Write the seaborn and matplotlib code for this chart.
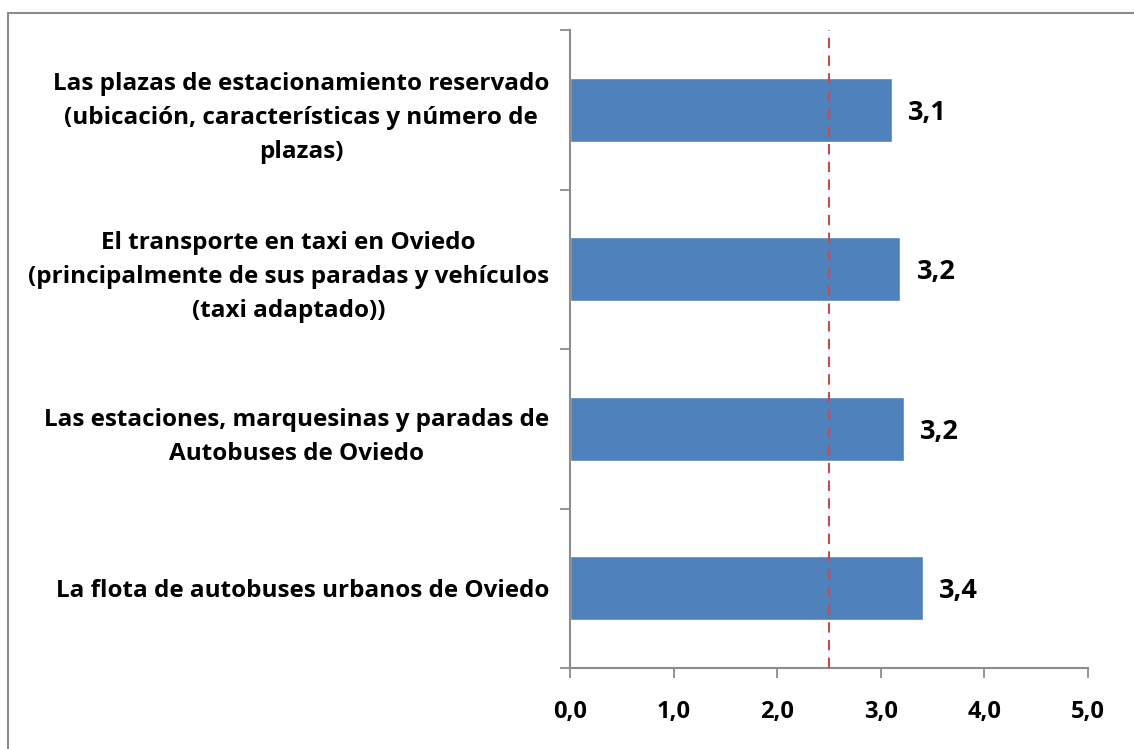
import matplotlib
matplotlib.use("Agg")
import matplotlib.pyplot as plt
import matplotlib.lines as mlines
import seaborn as sns
import pandas as pd

# Valoración media de cada elemento del transporte (escala 0-5)
categories = [
    "Las plazas de estacionamiento reservado\n(ubicación, características y número de\nplazas)",
    "El transporte en taxi en Oviedo\n(principalmente de sus paradas y vehículos\n(taxi adaptado))",
    "Las estaciones, marquesinas y paradas de\nAutobuses de Oviedo",
    "La flota de autobuses urbanos de Oviedo",
]
scores = [3.11, 3.19, 3.22, 3.41]
reference_value = 2.5
x_ticks = [0, 1, 2, 3, 4, 5]

df = pd.DataFrame({"categoria": categories, "valor": scores})

sns.set_theme(style="white")
plt.rcParams["font.family"] = ["Open Sans", "DejaVu Sans"]
plt.rcParams["font.weight"] = "bold"
plt.rcParams["text.color"] = "black"
plt.rcParams["xtick.labelcolor"] = "black"
plt.rcParams["ytick.labelcolor"] = "black"

fig = plt.figure(figsize=(11.34, 7.49), dpi=100)
ax = fig.add_axes([570 / 1134, 1 - 668 / 749, (1088 - 570) / 1134, (668 - 30) / 749])

sns.barplot(data=df, x="valor", y="categoria", orient="h", color="#4F81BD",
            saturation=1, width=0.4, ax=ax)

ax.set_xlim(0, 5)
ax.set_ylim(3.5, -0.5)
ax.set_xlabel("")
ax.set_ylabel("")

# Línea de referencia en el punto medio de la escala
ax.axvline(reference_value, color="#C0504D", linewidth=1.5, linestyle=(0, (5, 3.5)), zorder=3)

# Etiquetas de valor junto a cada barra
for i, v in enumerate(scores):
    ax.text(v + 0.155, i + 0.02, f"{v:.1f}".replace(".", ","), va="center", ha="left",
            fontsize=19.5, fontweight="bold", color="black")

ax.set_xticks(x_ticks)
ax.set_xticklabels([f"{t:.1f}".replace(".", ",") for t in x_ticks],
                   fontsize=17, fontweight="bold", color="black")
ax.set_yticks(range(len(categories)))
ax.set_yticklabels(categories, fontsize=17.5, fontweight="bold", ha="right", color="black",
                   multialignment="center", linespacing=1.55)
ax.tick_params(axis="y", which="major", length=0, pad=15)
ax.set_yticks([i - 0.5 for i in range(len(categories) + 1)], minor=True)
ax.tick_params(axis="y", which="minor", length=7, width=1.3, color="#8C8C8C", direction="out", left=True)
ax.tick_params(axis="x", which="major", length=7, width=1.3, color="#8C8C8C", direction="out",
               bottom=True, pad=16)

for side in ["top", "right"]:
    ax.spines[side].set_visible(False)
for side in ["left", "bottom"]:
    ax.spines[side].set_color("#8C8C8C")
    ax.spines[side].set_linewidth(1.5)

# Marco exterior del gráfico
fig.add_artist(mlines.Line2D([8 / 1134, 8 / 1134], [0, 1 - 13 / 749], color="#8C8C8C",
                             linewidth=1.5, transform=fig.transFigure))
fig.add_artist(mlines.Line2D([8 / 1134, 1], [1 - 13 / 749, 1 - 13 / 749], color="#8C8C8C",
                             linewidth=1.5, transform=fig.transFigure))

fig.savefig("out.png", dpi=100, facecolor="white")
